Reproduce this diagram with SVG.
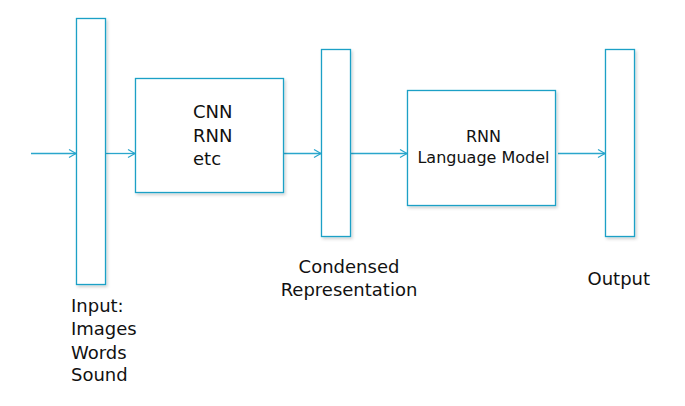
<svg xmlns="http://www.w3.org/2000/svg" width="685" height="406" viewBox="0 0 685 406">
<defs>
<filter id="sh" x="-20%" y="-20%" width="140%" height="140%">
<feDropShadow dx="1.5" dy="2" stdDeviation="1.5" flood-color="#000" flood-opacity="0.18"/>
</filter>
<marker id="ah" markerWidth="10" markerHeight="10" refX="8" refY="5" orient="auto" markerUnits="userSpaceOnUse">
<path d="M1,1 L8,5 L1,9" fill="none" stroke="#2aa6cc" stroke-width="1.2"/>
</marker>
<style>
.box{fill:#fff;stroke:#1ea0c6;stroke-width:1.3;filter:url(#sh)}
.t{font-family:"DejaVu Sans","Liberation Sans",sans-serif;font-size:18px;fill:#111}
.s{font-size:16px}
.c{stroke:#2aa6cc;stroke-width:1.3;fill:none;marker-end:url(#ah)}
</style>
</defs>
<rect width="685" height="406" fill="#fff"/>
<g id="connectors">
<line class="c" x1="31" y1="153.5" x2="76" y2="153.5"/>
<line class="c" x1="105.5" y1="153.5" x2="135" y2="153.5"/>
<line class="c" x1="283.5" y1="153.5" x2="321" y2="153.5"/>
<line class="c" x1="350.5" y1="153.5" x2="407" y2="153.5"/>
<line class="c" x1="558" y1="153.5" x2="605" y2="153.5"/>
</g>
<g id="input">
<rect class="box" x="76.5" y="18.5" width="29" height="266"/>
<text class="t" x="71" y="311.5">Input:</text>
<text class="t" x="71" y="335">Images</text>
<text class="t" x="71" y="358.5">Words</text>
<text class="t" x="71" y="381">Sound</text>
</g>
<g id="encoder">
<rect class="box" x="135.5" y="78.5" width="148" height="114"/>
<text class="t" x="193" y="117.5">CNN</text>
<text class="t" x="193" y="141.5">RNN</text>
<text class="t" x="193" y="165">etc</text>
</g>
<g id="condensed">
<rect class="box" x="321.5" y="49.5" width="29" height="187"/>
<text class="t" x="349" y="272.5" text-anchor="middle">Condensed</text>
<text class="t" x="349" y="296" text-anchor="middle">Representation</text>
</g>
<g id="lm">
<rect class="box" x="407.5" y="90.5" width="148" height="115"/>
<text class="t s" x="483.5" y="141.5" text-anchor="middle">RNN</text>
<text class="t s" x="483.5" y="163" text-anchor="middle">Language Model</text>
</g>
<g id="output">
<rect class="box" x="605.5" y="49.5" width="29" height="187"/>
<text class="t" x="587.5" y="284.5">Output</text>
</g>
</svg>
